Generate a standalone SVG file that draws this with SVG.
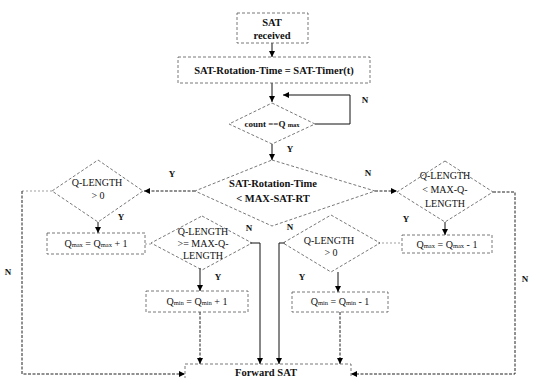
<svg xmlns="http://www.w3.org/2000/svg" width="533" height="378" viewBox="0 0 533 378">
<style>
  text { font-family: "Liberation Serif", "DejaVu Serif", serif; fill: #111; text-anchor: middle; }
  .b { font-size: 10.5px; font-weight: bold; }
  .n { font-size: 10px; }
  .lbl { font-size: 9px; font-weight: bold; }
  .sub { font-size: 6.5px; }
  .shape { fill: none; stroke: #555; stroke-width: 0.8; stroke-dasharray: 3 2; }
  .edge { fill: none; stroke: #111; stroke-width: 1; }
  .edged { fill: none; stroke: #222; stroke-width: 1; stroke-dasharray: 3 1.5; }
  .faint { fill: none; stroke: #777; stroke-width: 0.7; stroke-dasharray: 2 2; }
</style>
<defs>
  <marker id="ah" viewBox="0 0 10 10" refX="10" refY="5" markerWidth="6" markerHeight="7" orient="auto" markerUnits="userSpaceOnUse">
    <path d="M0,0 L10,5 L0,10 z" fill="#000"/>
  </marker>
</defs>
<rect width="533" height="378" fill="#fff"/>

<g id="connectors">
  <path class="edge" d="M272,43 V57" marker-end="url(#ah)"/>
  <path class="edge" d="M272,83 V102" marker-end="url(#ah)"/>
  <path class="edge" d="M315,124 H350 V95 H283" marker-end="url(#ah)"/>
  <path class="edge" d="M272,144 V160" marker-end="url(#ah)"/>
  <path class="edged" d="M195,191 H144" marker-end="url(#ah)"/>
  <path class="edged" d="M375,191 H397" marker-end="url(#ah)"/>
  <path class="edge" d="M98,222 V233" marker-end="url(#ah)"/>
  <path class="edge" d="M445,222 V235" marker-end="url(#ah)"/>
  <path class="faint" d="M52,191 H22"/>
  <path class="edged" d="M22,191 V374 H185" marker-end="url(#ah)"/>
  <path class="edged" d="M493,192 H515 V374 H351" marker-end="url(#ah)"/>
  <path class="faint" d="M145,244 H153"/>
  <path class="faint" d="M378,243 H402"/>
  <path class="edge" d="M250,243 H260 V364" marker-end="url(#ah)"/>
  <path class="edge" d="M285,243 H279 V364" marker-end="url(#ah)"/>
  <path class="edge" d="M200,268 V291" marker-end="url(#ah)"/>
  <path class="edge" d="M338,272 V292" marker-end="url(#ah)"/>
  <path class="edged" d="M200,312 V364" marker-end="url(#ah)"/>
  <path class="edged" d="M340,312 V364" marker-end="url(#ah)"/>
</g>

<g id="n-received">
  <rect class="shape" x="237" y="13" width="71" height="30"/>
  <text class="b" x="272" y="26">SAT</text>
  <text class="b" x="272" y="39">received</text>
</g>

<g id="n-rotation">
  <rect class="shape" x="178" y="57" width="192" height="26"/>
  <text class="b" x="274" y="74">SAT-Rotation-Time = SAT-Timer(t)</text>
</g>

<g id="n-count">
  <polygon class="shape" points="272,103 315,124 272,144 229,124"/>
  <text class="lbl" x="272" y="127">count ==Q <tspan class="sub">max</tspan></text>
</g>

<g id="n-maxrt">
  <polygon class="shape" points="272,160 375,191 272,226 195,191"/>
  <text class="b" x="273" y="187">SAT-Rotation-Time</text>
  <text class="b" x="273" y="202">&lt; MAX-SAT-RT</text>
</g>

<g id="n-qlen0-left">
  <polygon class="shape" points="98,160 143,191 98,222 52,191"/>
  <text class="n" x="97" y="186">Q-LENGTH</text>
  <text class="n" x="98" y="199">&gt; 0</text>
</g>

<g id="n-qmax-plus">
  <rect class="shape" x="47" y="233" width="98" height="21"/>
  <text class="n" x="96" y="247">Q<tspan class="sub">max</tspan>  = Q<tspan class="sub">max</tspan> + 1</text>
</g>

<g id="n-qlen-lt">
  <polygon class="shape" points="445,161 493,192 445,222 397,192"/>
  <text class="n" x="445" y="179">Q-LENGTH</text>
  <text class="n" x="445" y="193">&lt; MAX-Q-</text>
  <text class="n" x="445" y="207">LENGTH</text>
</g>

<g id="n-qmax-minus">
  <rect class="shape" x="402" y="235" width="90" height="18"/>
  <text class="n" x="447" y="248">Q<tspan class="sub">max</tspan>  = Q<tspan class="sub">max</tspan> - 1</text>
</g>

<g id="n-qlen-ge">
  <polygon class="shape" points="202,216 252,243 202,270 151,243"/>
  <text class="n" x="203" y="235">Q-LENGTH</text>
  <text class="n" x="203" y="247">&gt;= MAX-Q-</text>
  <text class="n" x="203" y="259">LENGTH</text>
</g>

<g id="n-qmin-plus">
  <rect class="shape" x="146" y="291" width="102" height="21"/>
  <text class="n" x="197" y="305">Q<tspan class="sub">min</tspan>  = Q<tspan class="sub">min</tspan> + 1</text>
</g>

<g id="n-qlen0-mid">
  <polygon class="shape" points="331,215 380,243 331,272 283,243"/>
  <text class="n" x="329" y="244">Q-LENGTH</text>
  <text class="n" x="331" y="256">&gt; 0</text>
</g>

<g id="n-qmin-minus">
  <rect class="shape" x="292" y="292" width="96" height="20"/>
  <text class="n" x="340" y="305">Q<tspan class="sub">min</tspan>  = Q<tspan class="sub">min</tspan> - 1</text>
</g>

<g id="n-forward">
  <rect class="shape" x="185" y="364" width="166" height="24"/>
  <text class="b" x="266" y="376">Forward SAT</text>
</g>

<g id="labels">
  <text class="lbl" x="365" y="103">N</text>
  <text class="lbl" x="290" y="152">Y</text>
  <text class="lbl" x="172" y="177">Y</text>
  <text class="lbl" x="368" y="176">N</text>
  <text class="lbl" x="121" y="220">Y</text>
  <text class="lbl" x="406" y="222">Y</text>
  <text class="lbl" x="249" y="231">N</text>
  <text class="lbl" x="290" y="230">N</text>
  <text class="lbl" x="218" y="280">Y</text>
  <text class="lbl" x="302" y="280">Y</text>
  <text class="lbl" x="8" y="275">N</text>
  <text class="lbl" x="525" y="282">N</text>
</g>
</svg>
